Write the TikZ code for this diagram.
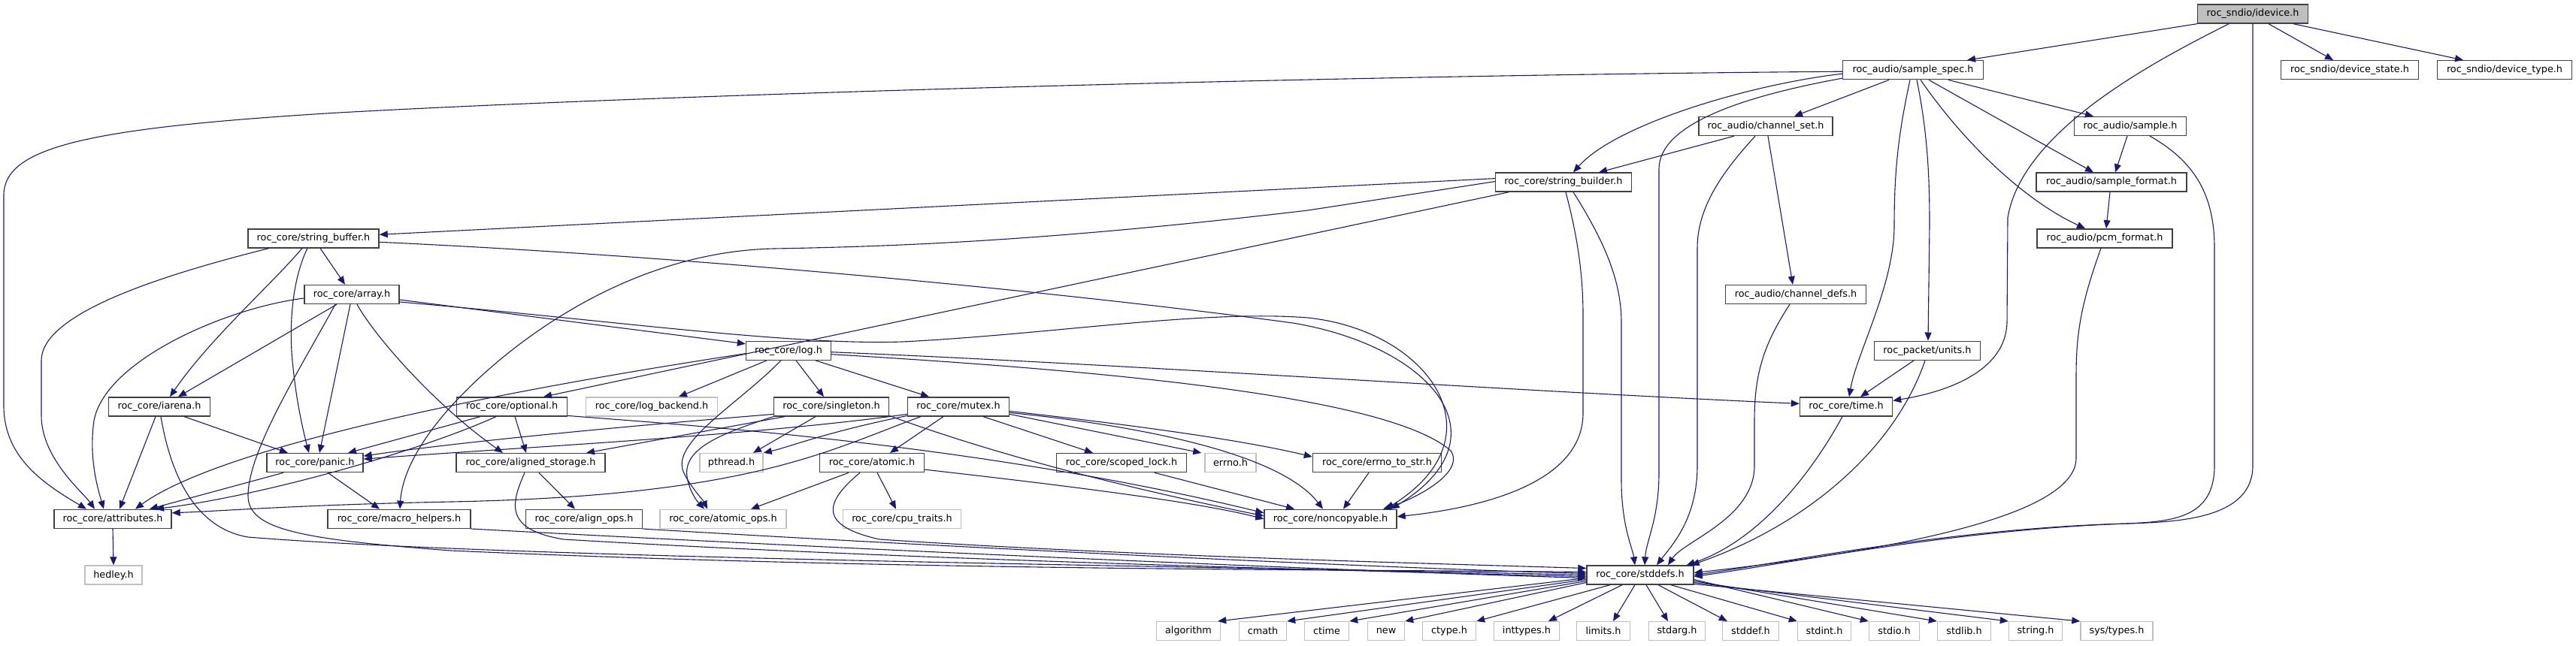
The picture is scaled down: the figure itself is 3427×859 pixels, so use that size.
\documentclass[tikz,border=0pt]{standalone}
\usepackage{fontspec}
\setmainfont{DejaVu Sans}
\usetikzlibrary{arrows.meta}
\definecolor{edgecol}{HTML}{191970}
\definecolor{ndborder}{HTML}{404040}
\definecolor{grborder}{HTML}{BFBFBF}
\definecolor{rootfill}{HTML}{BFBFBF}
\begin{document}
\begin{tikzpicture}[x=0.5pt,y=-0.5pt,
  nd/.style={draw=ndborder, line width=0.7pt, minimum height=12.5pt, inner sep=0pt, fill=white, font=\fontsize{6.4}{7}\selectfont},
  gr/.style={nd, draw=grborder},
  root/.style={nd, fill=rootfill},
  e/.style={draw=edgecol, line width=0.55pt, -{Triangle[length=5.5pt,width=4.5pt]}}]
\useasboundingbox (0,0) rectangle (3427,859);
% nodes
\node[root,minimum width=73.5pt] (idevice) at (2997,18.5) {roc\_sndio/idevice.h};
\node[nd,minimum width=93.5pt] (sample_spec) at (2545,93.2) {roc\_audio/sample\_spec.h};
\node[nd,minimum width=91.5pt] (device_state) at (3126,93.2) {roc\_sndio/device\_state.h};
\node[nd,minimum width=89.5pt] (device_type) at (3332,93.2) {roc\_sndio/device\_type.h};
\node[nd,minimum width=89pt] (channel_set) at (2349,167.9) {roc\_audio/channel\_set.h};
\node[nd,minimum width=74.5pt] (sample) at (2834,167.9) {roc\_audio/sample.h};
\node[nd,minimum width=90.5pt] (string_builder) at (2080,242.6) {roc\_core/string\_builder.h};
\node[nd,minimum width=100pt] (sample_format) at (2809,242.6) {roc\_audio/sample\_format.h};
\node[nd,minimum width=87pt] (string_buffer) at (417,317.3) {roc\_core/string\_buffer.h};
\node[nd,minimum width=90pt] (pcm_format) at (2800,317.3) {roc\_audio/pcm\_format.h};
\node[nd,minimum width=63pt] (array) at (468,392) {roc\_core/array.h};
\node[nd,minimum width=93.5pt] (channel_defs) at (2389,392) {roc\_audio/channel\_defs.h};
\node[nd,minimum width=56.5pt] (log) at (1049,466.7) {roc\_core/log.h};
\node[nd,minimum width=70.5pt] (units) at (2564,466.7) {roc\_packet/units.h};
\node[nd,minimum width=67.5pt] (iarena) at (212,541.4) {roc\_core/iarena.h};
\node[nd,minimum width=73.5pt] (optional) at (681,541.4) {roc\_core/optional.h};
\node[gr,minimum width=87.5pt] (log_backend) at (867,541.4) {roc\_core/log\_backend.h};
\node[nd,minimum width=76.5pt] (singleton) at (1106,541.4) {roc\_core/singleton.h};
\node[nd,minimum width=67.5pt] (mutex) at (1275,541.4) {roc\_core/mutex.h};
\node[nd,minimum width=61.5pt] (time) at (2456,541.4) {roc\_core/time.h};
\node[nd,minimum width=64pt] (panic) at (419,616.1) {roc\_core/panic.h};
\node[nd,minimum width=99pt] (aligned_storage) at (706,616.1) {roc\_core/aligned\_storage.h};
\node[gr,minimum width=42pt] (pthread) at (973,616.1) {pthread.h};
\node[nd,minimum width=69.5pt] (atomic) at (1160,616.1) {roc\_core/atomic.h};
\node[nd,minimum width=86.5pt] (scoped_lock) at (1492,616.1) {roc\_core/scoped\_lock.h};
\node[gr,minimum width=34pt] (errno) at (1637,616.1) {errno.h};
\node[nd,minimum width=85.5pt] (errno_to_str) at (1832,616.1) {roc\_core/errno\_to\_str.h};
\node[nd,minimum width=78pt] (attributes) at (150,690.8) {roc\_core/attributes.h};
\node[nd,minimum width=95pt] (macro_helpers) at (531,690.8) {roc\_core/macro\_helpers.h};
\node[nd,minimum width=77.5pt] (align_ops) at (777,690.8) {roc\_core/align\_ops.h};
\node[gr,minimum width=84pt] (atomic_ops) at (962,690.8) {roc\_core/atomic\_ops.h};
\node[gr,minimum width=78.5pt] (cpu_traits) at (1200,690.8) {roc\_core/cpu\_traits.h};
\node[nd,minimum width=88pt] (noncopyable) at (1770,690.8) {roc\_core/noncopyable.h};
\node[gr,minimum width=38pt] (hedley) at (151,765.5) {hedley.h};
\node[nd,minimum width=71pt] (stddefs) at (2182,765.5) {roc\_core/stddefs.h};
\node[gr,minimum width=42.5pt] (algorithm) at (1581,840.2) {algorithm};
\node[gr,minimum width=31.5pt] (cmath) at (1680,840.2) {cmath};
\node[gr,minimum width=29.5pt] (ctime) at (1765,840.2) {ctime};
\node[gr,minimum width=24.5pt] (new) at (1844,840.2) {new};
\node[gr,minimum width=35.5pt] (ctype) at (1928,840.2) {ctype.h};
\node[gr,minimum width=43.5pt] (inttypes) at (2031,840.2) {inttypes.h};
\node[gr,minimum width=35.5pt] (limits) at (2133,840.2) {limits.h};
\node[gr,minimum width=37.5pt] (stdarg) at (2231,840.2) {stdarg.h};
\node[gr,minimum width=37.5pt] (stddef) at (2329,840.2) {stddef.h};
\node[gr,minimum width=35.5pt] (stdint) at (2427,840.2) {stdint.h};
\node[gr,minimum width=33.5pt] (stdio) at (2520,840.2) {stdio.h};
\node[gr,minimum width=35.5pt] (stdlib) at (2613,840.2) {stdlib.h};
\node[gr,minimum width=35.5pt] (string) at (2708,840.2) {string.h};
\node[gr,minimum width=48pt] (systypes) at (2816,840.2) {sys/types.h};
% idevice
\draw[e] (idevice.south west) -- ([shift={(72,0)}]sample_spec.north);
\draw[e] ([shift={(-32,0)}]idevice.south) .. controls (2880,75) and (2690,170) .. (2671,290) -- (2670,430) .. controls (2668,490) and (2600,520) .. ([shift={(0,-8)}]time.east);
\draw[e] (idevice.south) -- (2997,620) .. controls (2997,690) and (2900,695) .. (2830,697) .. controls (2600,705) and (2380,750) .. ([shift={(0,2)}]stddefs.east);
\draw[e] ([shift={(21,0)}]idevice.south) -- ([shift={(-22,0)}]device_state.north);
\draw[e] ([shift={(54,0)}]idevice.south) -- ([shift={(-55,0)}]device_type.north);
% sample_spec
\draw[e] ([shift={(0,2)}]sample_spec.west) .. controls (1800,100) and (900,125) .. (450,150) .. controls (120,170) and (5,195) .. (5,260) -- (5,540) .. controls (5,610) and (60,645) .. ([shift={(-35,0)}]attributes.north);
\draw[e] ([shift={(0,5)}]sample_spec.west) .. controls (2330,112) and (2150,165) .. ([shift={(13,0)}]string_builder.north);
\draw[e] ([shift={(0,11)}]sample_spec.west) .. controls (2320,128) and (2207,165) .. (2207,225) -- (2207,630) .. controls (2207,690) and (2190,720) .. ([shift={(6,0)}]stddefs.north);
\draw[e] ([shift={(-32,0)}]sample_spec.south) -- ([shift={(38,0)}]channel_set.north);
\draw[e] ([shift={(-4,0)}]sample_spec.south) .. controls (2525,180) and (2520,230) .. (2520,300) .. controls (2520,380) and (2470,470) .. ([shift={(4,0)}]time.north);
\draw[e] ([shift={(5,0)}]sample_spec.south) .. controls (2565,180) and (2567,240) .. (2567,300) -- ([shift={(1,0)}]units.north);
\draw[e] ([shift={(10,0)}]sample_spec.south) .. controls (2620,200) and (2700,270) .. ([shift={(-26,0)}]pcm_format.north);
\draw[e] ([shift={(21,0)}]sample_spec.south) -- ([shift={(-24,0)}]sample_format.north);
\draw[e] ([shift={(47,0)}]sample_spec.south) -- ([shift={(-49,0)}]sample.north);
% channel_set
\draw[e] ([shift={(-42,0)}]channel_set.south) -- ([shift={(47,0)}]string_builder.north);
\draw[e] ([shift={(-14,0)}]channel_set.south) .. controls (2300,220) and (2258,270) .. (2258,330) -- (2258,620) .. controls (2258,690) and (2225,725) .. ([shift={(22,0)}]stddefs.north);
\draw[e] ([shift={(3,0)}]channel_set.south) -- ([shift={(-4,0)}]channel_defs.north);
% sample
\draw[e] ([shift={(-4,0)}]sample.south) -- ([shift={(5,0)}]sample_format.north);
\draw[e] ([shift={(26,0)}]sample.south) .. controls (2920,215) and (2946,260) .. (2946,330) -- (2946,620) .. controls (2946,690) and (2890,694) .. (2830,697) .. controls (2600,703) and (2380,748) .. (stddefs.east);
\draw[e] ([shift={(-2,0)}]sample_format.south) -- ([shift={(2,0)}]pcm_format.north);
\draw[e] ([shift={(-5,0)}]pcm_format.south) .. controls (2770,400) and (2762,440) .. (2762,500) -- (2762,610) .. controls (2762,690) and (2500,735) .. ([shift={(0,-3)}]stddefs.east);
\draw[e] ([shift={(-8,0)}]channel_defs.south) .. controls (2345,460) and (2334,500) .. (2334,560) -- (2334,620) .. controls (2334,690) and (2240,720) .. ([shift={(37,0)}]stddefs.north);
% string_builder
\draw[e] ([shift={(0,-5)}]string_builder.west) -- ([shift={(0,-5)}]string_buffer.east);
\draw[e] ([shift={(0,-1)}]string_builder.west) -- (1740,280) .. controls (1400,320) and (1200,328) .. (1029,331) .. controls (850,335) and (700,440) .. (620,520) .. controls (560,580) and (535,630) .. ([shift={(1,0)}]macro_helpers.north);
\draw[e] ([shift={(-73,0)}]string_builder.south) -- ([shift={(42,0)}]optional.north);
\draw[e] ([shift={(3,0)}]string_builder.south) .. controls (2100,320) and (2106,370) .. (2106,420) -- (2106,550) .. controls (2106,640) and (1980,675) .. ([shift={(0,-3)}]noncopyable.east);
\draw[e] ([shift={(13,0)}]string_builder.south) .. controls (2140,330) and (2157,380) .. (2157,430) -- (2157,640) .. controls (2157,700) and (2172,730) .. ([shift={(-7,0)}]stddefs.north);
% string_buffer
\draw[e] ([shift={(9,0)}]string_buffer.south) -- ([shift={(-9,0)}]array.north);
\draw[e] ([shift={(-59,0)}]string_buffer.south) .. controls (200,370) and (55,420) .. (55,480) -- (55,553) .. controls (55,610) and (110,655) .. ([shift={(-24,0)}]attributes.north);
\draw[e] ([shift={(-15,0)}]string_buffer.south) .. controls (360,380) and (280,450) .. ([shift={(14,0)}]iarena.north);
\draw[e] ([shift={(-8,0)}]string_buffer.south) .. controls (385,380) and (385,450) .. (390,490) .. controls (395,540) and (405,580) .. ([shift={(-8,0)}]panic.north);
\draw[e] ([shift={(0,5)}]string_buffer.east) .. controls (1000,345) and (1500,400) .. (1720,430) .. controls (1900,460) and (2010,580) .. ([shift={(-8,0)}]noncopyable.north east);
% array
\draw[e] ([shift={(0,5)}]array.west) .. controls (300,410) and (140,480) .. (125,560) .. controls (118,610) and (130,650) .. ([shift={(-12,0)}]attributes.north);
\draw[e] ([shift={(-20,0)}]array.south) -- ([shift={(25,0)}]iarena.north);
\draw[e] ([shift={(-2,0)}]array.south) -- ([shift={(6,0)}]panic.north);
\draw[e] ([shift={(7,0)}]array.south) .. controls (500,450) and (580,540) .. ([shift={(-37,0)}]aligned_storage.north);
\draw[e] ([shift={(-22,0)}]array.south) .. controls (400,490) and (330,600) .. (330,660) .. controls (330,705) and (400,718) .. (600,733) .. controls (1200,760) and (1800,758) .. ([shift={(0,-4)}]stddefs.west);
\draw[e] ([shift={(0,7)}]array.east) -- ([shift={(0,-9)}]log.west);
\draw[e] ([shift={(0,10)}]array.east) .. controls (800,425) and (1050,460) .. (1200,455) .. controls (1400,445) and (1600,412) .. (1740,423) .. controls (1900,440) and (2000,580) .. ([shift={(-15,0)}]noncopyable.north east);
% log
\draw[e] ([shift={(0,4)}]log.west) .. controls (700,515) and (300,590) .. ([shift={(30,0)}]attributes.north);
\draw[e] ([shift={(-29,0)}]log.south) -- ([shift={(36,0)}]log_backend.north);
\draw[e] ([shift={(-10,0)}]log.south) .. controls (980,540) and (890,590) .. (910,630) .. controls (920,650) and (935,665) .. ([shift={(-21,0)}]atomic_ops.north);
\draw[e] ([shift={(10,0)}]log.south) -- ([shift={(-10,0)}]singleton.north);
\draw[e] ([shift={(36,0)}]log.south) -- ([shift={(-39,0)}]mutex.north);
\draw[e] ([shift={(0,2)}]log.east) .. controls (1500,485) and (2000,520) .. ([shift={(0,-4)}]time.west);
\draw[e] ([shift={(0,5)}]log.east) .. controls (1500,495) and (1850,530) .. (1930,600) .. controls (1950,630) and (1880,665) .. ([shift={(70,0)}]noncopyable.north);
% iarena
\draw[e] ([shift={(-5,0)}]iarena.south) -- ([shift={(9,0)}]attributes.north);
\draw[e] ([shift={(33,0)}]iarena.south) -- ([shift={(-36,0)}]panic.north);
\draw[e] ([shift={(2,0)}]iarena.south) .. controls (230,650) and (270,705) .. (330,715) .. controls (700,745) and (1700,755) .. (stddefs.west);
% optional
\draw[e] ([shift={(4,0)}]optional.south) -- ([shift={(-6,0)}]aligned_storage.north);
\draw[e] ([shift={(-42,0)}]optional.south) -- ([shift={(44,0)}]panic.north);
\draw[e] ([shift={(-21,0)}]optional.south) .. controls (560,600) and (350,660) .. ([shift={(57,0)}]attributes.north);
\draw[e] ([shift={(0,12)}]optional.east) .. controls (900,565) and (1300,590) .. ([shift={(0,-8)}]noncopyable.west);
% singleton
\draw[e] ([shift={(-62,0)}]singleton.south) -- ([shift={(74,0)}]aligned_storage.north);
\draw[e] ([shift={(-77,0)}]singleton.south) .. controls (950,580) and (905,600) .. (915,640) .. controls (920,660) and (930,670) .. ([shift={(-25,0)}]atomic_ops.north);
\draw[e] ([shift={(-21,0)}]singleton.south) -- ([shift={(29,0)}]pthread.north);
\draw[e] ([shift={(0,10)}]singleton.west) .. controls (800,570) and (600,590) .. ([shift={(0,-9)}]panic.east);
\draw[e] ([shift={(0,12)}]singleton.east) .. controls (1350,615) and (1550,660) .. ([shift={(0,-4)}]noncopyable.west);
% mutex
\draw[e] ([shift={(-20,0)}]mutex.south) -- ([shift={(24,0)}]atomic.north);
\draw[e] ([shift={(33,0)}]mutex.south) -- ([shift={(-38,0)}]scoped_lock.north);
\draw[e] ([shift={(0,10)}]mutex.east) -- ([shift={(-4,0)}]errno.north west);
\draw[e] ([shift={(0,6)}]mutex.east) .. controls (1500,565) and (1650,585) .. ([shift={(0,-8)}]errno_to_str.west);
\draw[e] ([shift={(0,8)}]mutex.east) .. controls (1500,565) and (1700,600) .. ([shift={(-10,0)}]noncopyable.north);
\draw[e] ([shift={(0,12)}]mutex.west) .. controls (1100,575) and (1050,595) .. (pthread.north east);
\draw[e] ([shift={(0,10)}]mutex.west) .. controls (1000,580) and (700,595) .. ([shift={(0,-5)}]panic.east);
\draw[e] ([shift={(-50,0)}]mutex.south) .. controls (1100,600) and (1000,660) .. (600,668) .. controls (400,672) and (300,680) .. ([shift={(0,-8)}]attributes.east);
% atomic
\draw[e] ([shift={(-31,0)}]atomic.south) -- ([shift={(37,0)}]atomic_ops.north);
\draw[e] ([shift={(7,0)}]atomic.south) -- ([shift={(-8,0)}]cpu_traits.north);
\draw[e] ([shift={(-16,0)}]atomic.south) .. controls (1095,670) and (1090,700) .. (1170,718) .. controls (1500,740) and (1900,750) .. ([shift={(0,-9)}]stddefs.west);
\draw[e] ([shift={(0,9)}]atomic.east) .. controls (1450,650) and (1600,670) .. (noncopyable.west);
% others
\draw[e] ([shift={(44,0)}]scoped_lock.south) -- ([shift={(-48,0)}]noncopyable.north);
\draw[e] ([shift={(-11,0)}]errno_to_str.south) -- ([shift={(17,0)}]noncopyable.north);
\draw[e] ([shift={(-42,0)}]panic.south) -- ([shift={(49,0)}]attributes.north);
\draw[e] ([shift={(17,0)}]panic.south) -- ([shift={(-26,0)}]macro_helpers.north);
\draw[e] ([shift={(11,0)}]aligned_storage.south) -- ([shift={(-12,0)}]align_ops.north);
\draw[e] ([shift={(-8,0)}]aligned_storage.south) .. controls (680,670) and (670,705) .. (750,718) .. controls (1200,745) and (1800,760) .. ([shift={(0,2)}]stddefs.west);
\draw[e] (macro_helpers.south east) .. controls (1200,735) and (1800,760) .. ([shift={(0,4)}]stddefs.west);
\draw[e] (align_ops.south east) .. controls (1200,725) and (1800,755) .. ([shift={(0,-2)}]stddefs.west);
\draw[e] (attributes.south) -- (hedley.north);
\draw[e] ([shift={(-18,0)}]units.south) -- ([shift={(19,0)}]time.north);
\draw[e] ([shift={(-3,0)}]units.south) .. controls (2520,600) and (2400,700) .. ([shift={(-4,0)}]stddefs.north east);
\draw[e] ([shift={(-5,0)}]time.south) .. controls (2410,630) and (2340,720) .. ([shift={(-10,0)}]stddefs.north east);
% stddefs -> leaves
\draw[e] ([shift={(0,4)}]stddefs.west) -- ([shift={(-4,0)}]algorithm.north east);
\draw[e] ([shift={(0,6)}]stddefs.west) -- (cmath.north east);
\draw[e] ([shift={(0,8)}]stddefs.west) -- (ctime.north east);
\draw[e] ([shift={(0,10)}]stddefs.west) -- (new.north east);
\draw[e] ([shift={(-40,0)}]stddefs.south) -- (ctype.north east);
\draw[e] ([shift={(-24,0)}]stddefs.south) -- ([shift={(29,0)}]inttypes.north);
\draw[e] ([shift={(-7,0)}]stddefs.south) -- ([shift={(13,0)}]limits.north);
\draw[e] ([shift={(8,0)}]stddefs.south) -- ([shift={(-12,0)}]stdarg.north);
\draw[e] ([shift={(24,0)}]stddefs.south) -- ([shift={(7,0)}]stddef.north west);
\draw[e] ([shift={(41,0)}]stddefs.south) -- (stdint.north west);
\draw[e] ([shift={(0,6)}]stddefs.east) -- (stdio.north west);
\draw[e] ([shift={(0,8)}]stddefs.east) -- (stdlib.north west);
\draw[e] ([shift={(0,10)}]stddefs.east) -- (string.north west);
\draw[e] ([shift={(0,12)}]stddefs.east) -- (systypes.north west);
\end{tikzpicture}
\end{document}
